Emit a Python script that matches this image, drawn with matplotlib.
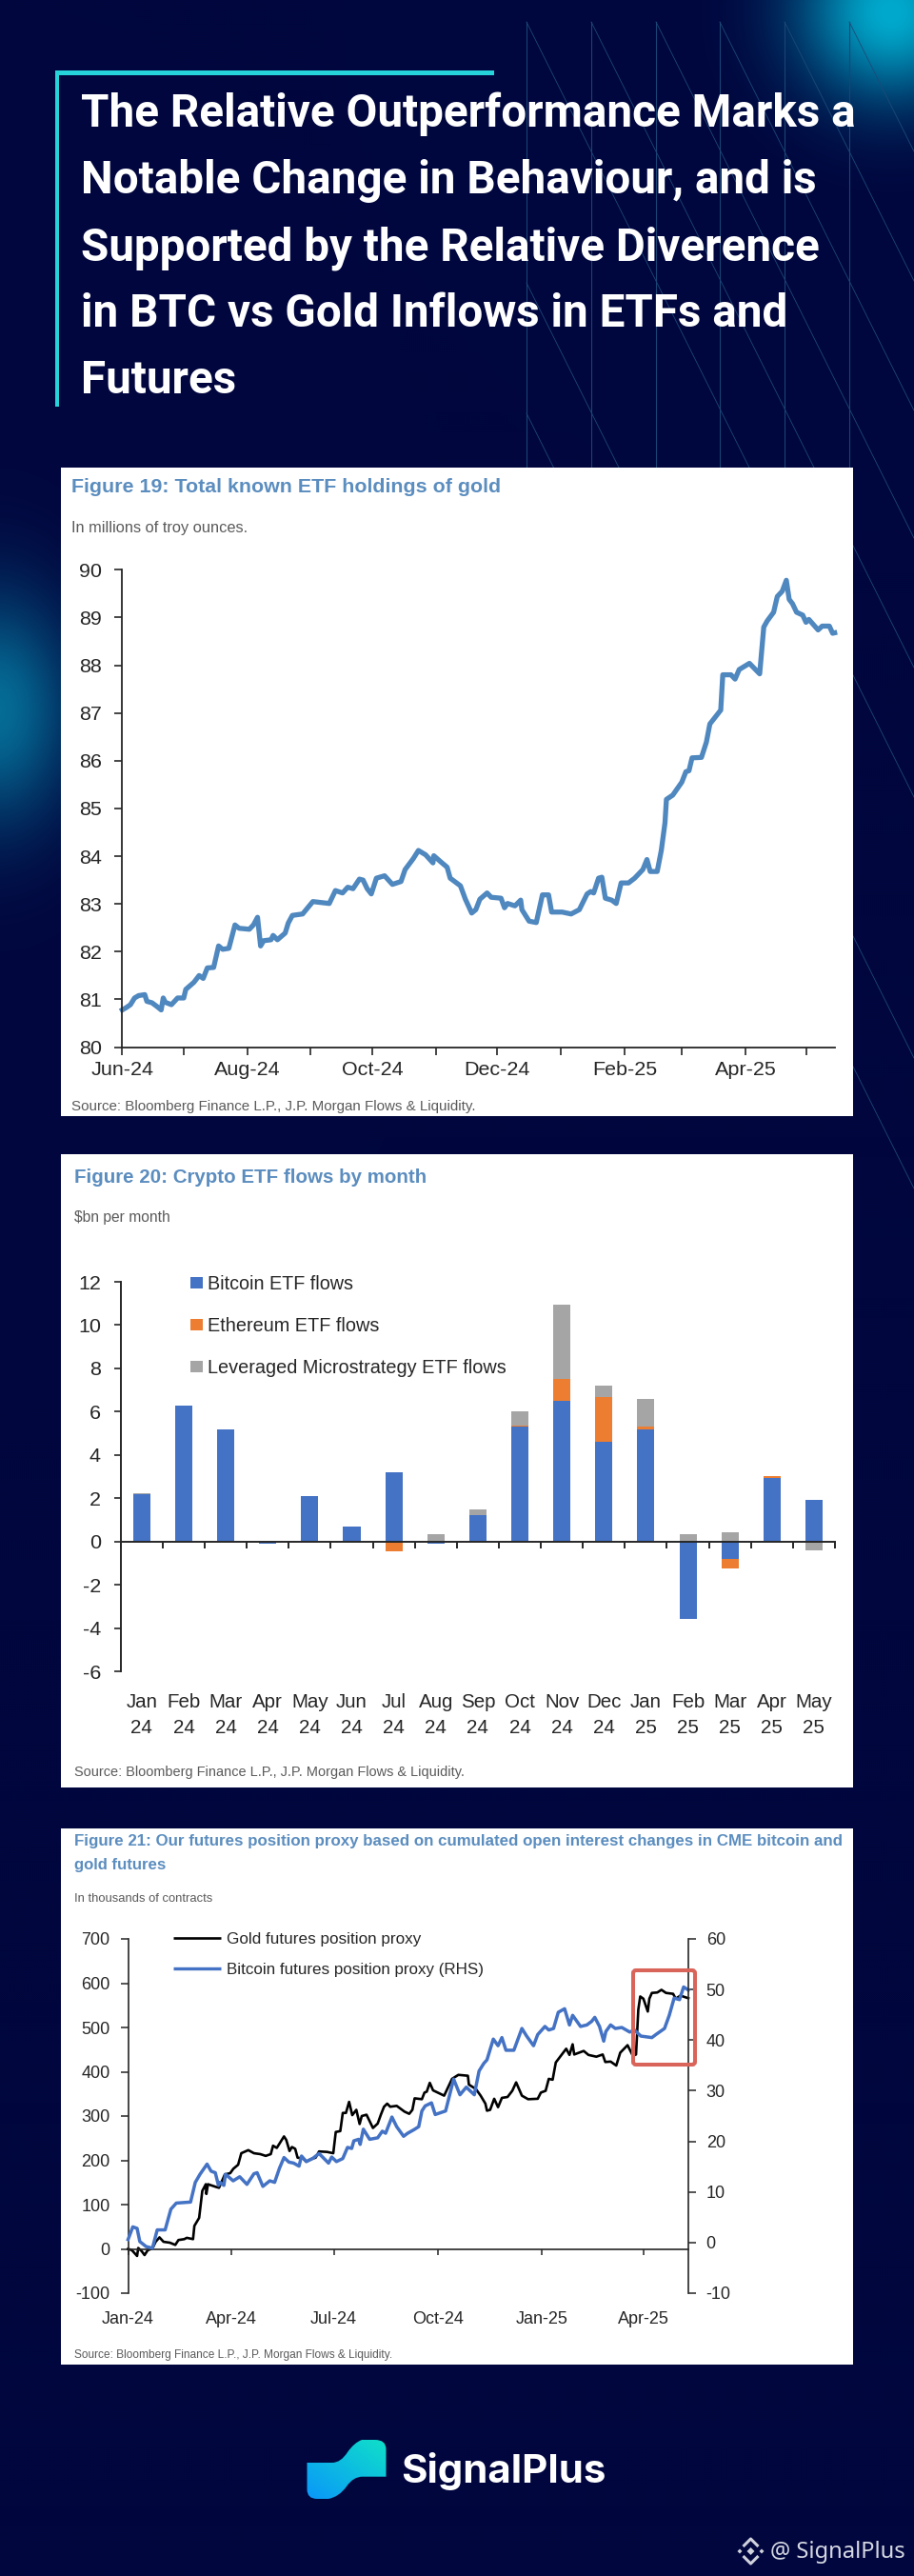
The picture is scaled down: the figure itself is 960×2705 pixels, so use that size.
import numpy as np
import matplotlib
matplotlib.use('Agg')
from matplotlib import pyplot as plt
from matplotlib.patches import Rectangle, FancyBboxPatch, PathPatch
from matplotlib.path import Path

W, H = 960, 2705

# Figure 19, days since 1 Jun 2024 and millions of troy ounces
gold_etf_days = [0, 2, 4, 6, 8, 11, 12, 14.5, 17, 19, 20, 21, 24, 27, 30, 31, 35, 37.5, 39.5, 41.5, 44.6, 47, 49, 52,
                 55, 57, 62, 64, 66, 67.5, 69, 72.6, 73.6, 75.7, 79.5, 81, 83, 88, 93, 101, 104, 107.5, 110, 112.6,
                 115.7, 117.5, 119.5, 121.5, 124, 128, 131.8, 136, 138, 142, 144.5, 148, 151.6, 152, 156, 158.5, 160,
                 165, 167.4, 170.5, 172.5, 174.5, 178, 180, 184.8, 186.5, 188, 191.6, 194.4, 195, 198.5, 202, 205,
                 208, 209.5, 214.6, 219, 223, 226.8, 228.6, 230, 232.4, 234, 235.7, 238.8, 241, 243.4, 247, 250, 254,
                 256, 257.6, 261, 263, 264.8, 265.5, 268.6, 273, 275, 276.5, 278, 282.6, 285, 286.7, 292, 293, 297,
                 299, 301, 306, 311, 313, 314.7, 317.8, 319.6, 322, 324, 325.4, 327, 329, 332, 333.6, 335, 339.5,
                 341.5, 345, 346.6, 347.6]
gold_etf_values = [80.78, 80.83, 80.89, 81.03, 81.08, 81.1, 80.96, 80.93, 80.85, 80.78, 81.03, 80.94, 80.89, 81.03,
                   81.03, 81.21, 81.36, 81.5, 81.44, 81.66, 81.67, 82.12, 82.05, 82.07, 82.56, 82.49, 82.47, 82.56,
                   82.72, 82.12, 82.23, 82.25, 82.34, 82.25, 82.39, 82.6, 82.76, 82.79, 83.05, 83.01, 83.28, 83.23,
                   83.35, 83.32, 83.52, 83.5, 83.32, 83.21, 83.54, 83.59, 83.41, 83.47, 83.72, 83.95, 84.12, 84.03,
                   83.86, 84.01, 83.86, 83.77, 83.54, 83.38, 83.1, 82.81, 82.88, 83.1, 83.23, 83.14, 83.12, 82.92,
                   83.01, 82.96, 83.08, 82.88, 82.64, 82.61, 83.19, 83.19, 82.83, 82.83, 82.79, 82.88, 83.21, 83.26,
                   83.23, 83.54, 83.56, 83.12, 83.08, 83.01, 83.44, 83.44, 83.54, 83.72, 83.93, 83.68, 83.68, 84.12,
                   84.7, 85.19, 85.28, 85.55, 85.77, 85.79, 86.06, 86.07, 86.39, 86.77, 87.06, 87.8, 87.8, 87.71,
                   87.91, 88.04, 87.82, 88.8, 88.93, 89.11, 89.44, 89.55, 89.78, 89.38, 89.29, 89.11, 89.05, 88.9,
                   88.96, 88.74, 88.82, 88.82, 88.67, 88.68]
etf_month_days = [0, 30, 61, 92, 122, 153, 183, 214, 245, 273, 304, 334]
etf_month_labels = ['Jun-24', '', 'Aug-24', '', 'Oct-24', '', 'Dec-24', '', 'Feb-25', '', 'Apr-25', '']

# Figure 20, $bn per month
flow_months = ['Jan', 'Feb', 'Mar', 'Apr', 'May', 'Jun', 'Jul', 'Aug', 'Sep', 'Oct', 'Nov', 'Dec', 'Jan', 'Feb',
               'Mar', 'Apr', 'May']
flow_years = ['24'] * 12 + ['25'] * 5
bitcoin_flows = [2.2, 6.3, 5.2, -0.08, 2.1, 0.7, 3.2, -0.1, 1.25, 5.3, 6.5, 4.6, 5.2, -3.55, -0.8, 2.95, 1.95]
ethereum_flows = [0, 0, 0, 0, 0, 0.02, -0.45, 0, 0, 0.05, 1.0, 2.1, 0.1, 0, -0.42, 0.07, 0]
microstrategy_flows = [0.03, 0, 0, 0, 0, 0, 0, 0.37, 0.25, 0.65, 3.45, 0.5, 1.3, 0.35, 0.45, 0, -0.4]

# Figure 21, days since 1 Jan 2024
gold_days = [0, 3.4, 8, 9, 12, 14.6, 17.4, 21.6, 24.4, 27.8, 31.4, 37, 41.8, 44.6, 49.7, 52, 57.5, 58.7, 62.9, 65.7,
             68.8, 69.3, 70.7, 77.7, 80.5, 85.6, 90.4, 93.2, 97.4, 100.2, 106.4, 111.4, 117, 121.8, 126.3, 128.3,
             131.6, 138, 140, 142.9, 145, 147.9, 150, 155, 157.7, 162, 166, 169, 176, 181.6, 183.8, 187.8, 190, 192.8,
             195.6, 198.4, 202, 204.9, 206.8, 211, 216.7, 220.9, 223.7, 226.5, 229.3, 232, 237.7, 240.4, 244.6, 248.8,
             251.6, 253.6, 260, 262.3, 264.3, 267, 269.9, 279.7, 282.5, 286.7, 292.3, 300.7, 301.6, 307.8, 312, 316.2,
             317.6, 320.4, 324, 327.4, 330.8, 335.8, 340, 343.4, 348.5, 354, 362.5, 365.3, 369.5, 372.3, 375.7, 378.5,
             385, 387.7, 390.6, 393.4, 394.8, 399, 403.2, 407.4, 414.4, 420, 422.3, 427, 432, 435.5, 442, 446.7, 449.5,
             451.5, 453.2, 456, 459.9, 461.3, 463.5, 468.3, 472, 476, 482.3, 484.6, 488.8, 495.8]
gold_position = [0, -3, -16, 2, -5, -14, -3, 1, 16, 26, 16, 14, 9, 20, 22, 25, 22, 52, 70, 131, 146, 124, 146, 140,
                 138, 168, 171, 181, 190, 216, 223, 216, 214, 210, 214, 233, 228, 254, 246, 221, 230, 226, 206, 204,
                 197, 203, 206, 220, 219, 216, 264, 266, 307, 307, 332, 302, 314, 282, 300, 303, 273, 283, 303, 321,
                 328, 321, 323, 318, 310, 305, 314, 340, 338, 353, 355, 375, 358, 346, 361, 384, 393, 391, 371, 361,
                 346, 328, 312, 314, 339, 320, 341, 343, 357, 376, 346, 338, 339, 353, 357, 384, 382, 421, 443, 452,
                 438, 462, 439, 443, 447, 438, 434, 439, 422, 423, 414, 443, 460, 436, 439, 540, 570, 565, 536, 565,
                 578, 579, 585, 578, 576, 565, 572, 566]
bitcoin_days = [0, 4.2, 8, 10.4, 16, 21.6, 25.8, 32.8, 37.9, 42.7, 55.3, 59.5, 63.7, 69.9, 73.5, 77.2, 80, 81.4, 84.8,
                86.2, 93, 98.8, 105.2, 111.4, 114.2, 119.3, 125.4, 129.7, 134, 138, 142.3, 146.5, 151.3, 153.5, 157.7,
                163.3, 169, 177.4, 180.2, 184.4, 190, 194.2, 197.9, 199.8, 204, 205.4, 208.2, 213.8, 220.9, 225, 227.9,
                233.5, 237.7, 243.8, 247.4, 253, 257.2, 260, 262.9, 268.5, 271.8, 281, 288.1, 293.7, 299.3, 306.4,
                310.6, 314.8, 317.6, 323.2, 327.4, 330.8, 334.4, 341.4, 348.5, 352.7, 358.8, 362.5, 368.9, 372.3,
                376.5, 380.7, 386.3, 390.6, 393.4, 400.4, 406, 410.2, 413, 417.2, 420.9, 422.8, 427, 431.2, 436.9,
                443.9, 448.1, 453.7, 463.5, 467.7, 474.7, 478.9, 483.2, 488, 491.6, 495.8]
bitcoin_position = [0.6, 3.1, 2.8, 0.2, -0.8, -1.1, 2.5, 2.5, 6.6, 7.8, 8, 11.9, 13.5, 15.5, 14.1, 13.8, 11.3, 11.9,
                    11.3, 13.5, 12.2, 13, 11.5, 13.6, 13.8, 11.1, 12.2, 11.9, 14.7, 16.8, 15.9, 15.7, 15.1, 17.1, 16,
                    16.6, 17.6, 15.7, 16.9, 16, 16.6, 18.8, 18.6, 20.1, 20.4, 19.4, 22.4, 20.4, 20.7, 22, 21.6, 24.8,
                    22.9, 21, 21.6, 22.3, 22.9, 26, 27, 27.6, 25.3, 26, 32.3, 29.2, 30.7, 29.2, 33.9, 35.4, 36.1, 40.2,
                    38.9, 40.5, 38, 38, 42.3, 40.8, 38.9, 41.1, 42.7, 42, 42.3, 45.5, 46.2, 43, 44.9, 42.7, 43, 43.7,
                    44.5, 42.7, 39.8, 41.7, 43, 42.3, 42.5, 41.6, 42, 40.8, 40.5, 41.2, 42.3, 44.9, 48.3, 48, 50.5, 49.9]
position_tick_days = [0, 91, 182, 274, 366, 456]
position_tick_labels = ['Jan-24', 'Apr-24', 'Jul-24', 'Oct-24', 'Jan-25', 'Apr-25']

NAVY = '#01063e'
ARIAL = 'Liberation Sans'
TITLE_BLUE = '#5b8dbf'
GREY = '#5a5a5a'
DARK = '#262626'

fig = plt.figure(figsize=(W / 100, H / 100), dpi=100, facecolor=NAVY)
plt.rcParams['font.family'] = ARIAL


def pt(px):
    return px * 0.72


def px_axes(left, top, right, bottom, **kw):
    return fig.add_axes([left / W, 1 - bottom / H, (right - left) / W, (bottom - top) / H], **kw)


def full_axes(zorder):
    a = px_axes(0, 0, W, H, zorder=zorder)
    a.set_xlim(0, W)
    a.set_ylim(H, 0)
    a.axis('off')
    a.patch.set_alpha(0)
    return a


bg = full_axes(0)
top = full_axes(10)

# background glows
yy, xx = np.mgrid[0:H:2, 0:W:2]
base = np.array([1, 6, 62]) / 255
glow_a = np.exp(-(((xx - 935) / 95.0) ** 2 + ((yy - 12) / 90.0) ** 2))
glow_b = np.exp(-(((xx + 5) / 80.0) ** 2 + ((yy - 745) / 120.0) ** 2))
img = np.ones(xx.shape + (3,)) * base
for g, colour, amount in [(glow_a, [0, 170, 205], 1.0), (glow_b, [5, 120, 160], 0.9)]:
    c = np.array(colour) / 255
    img = img + (c - img) * (g * amount)[..., None]
bg.imshow(img, extent=(0, W, H, 0), aspect='auto', zorder=0, interpolation='bilinear')
bg.set_xlim(0, W)
bg.set_ylim(H, 0)

# decorative lines
for x in [553, 621, 689, 756, 824, 892]:
    bg.plot([x, x], [23, 492], color='#1a4474', lw=0.8, zorder=1)
    bg.plot([x, 960], [23, 23 + (960 - x) * 2.0], color='#1c4a78', lw=0.6, zorder=1)
for start in [297, 434]:
    bg.plot([553, 960], [start, start + 407 * 2.0], color='#1c4a78', lw=0.6, zorder=1)

# header accent
bg.add_patch(Rectangle((58, 74), 461, 5, color='#27d3da', lw=0, zorder=2))
bg.add_patch(Rectangle((58, 74), 4, 353, color='#27d3da', lw=0, zorder=2))

# white panels
for y0, y1 in [(491, 1172), (1212, 1877), (1920, 2483)]:
    bg.add_patch(Rectangle((64, y0), 832, y1 - y0, color='white', lw=0, zorder=3))

renderer = fig.canvas.get_renderer()


def fit(x, y, s, width=None, size=14, **kw):
    kw.setdefault('va', 'baseline')
    t = top.text(x, y, s, fontsize=pt(size), **kw)
    if width:
        t.set_fontsize(t.get_fontsize() * width / t.get_window_extent(renderer).width)
    return t


# header
header = ['The Relative Outperformance Marks a', 'Notable Change in Behaviour, and is',
          'Supported by the Relative Diverence', 'in BTC vs Gold Inflows in ETFs and', 'Futures']
first = fit(85, 133, header[0], width=812, size=42, color='white', family='Roboto', fontweight='bold')
for i, line in enumerate(header[1:]):
    top.text(85, 203 + 70 * i, line, fontsize=first.get_fontsize(), color='white', family='Roboto',
             fontweight='bold', va='baseline')

# Figure 19
fit(75, 517, 'Figure 19: Total known ETF holdings of gold', width=449, color=TITLE_BLUE, family=ARIAL,
    fontweight='bold')
fit(75, 559, 'In millions of troy ounces.', width=186, color=GREY, family=ARIAL)
fit(75, 1166, 'Source: Bloomberg Finance L.P., J.P. Morgan Flows & Liquidity.', width=426, color=GREY, family=ARIAL)

ax1 = px_axes(128.4, 598.3, 876.7, 1099.6, zorder=5)
ax1.patch.set_alpha(0)
ax1.plot(gold_etf_days, gold_etf_values, color='#4f87bf', lw=3.8, clip_on=False, solid_joinstyle='round')
ax1.set_xlim(0, 347.6)
ax1.set_ylim(80, 90)
ax1.set_xticks(etf_month_days)
ax1.set_xticklabels(etf_month_labels)
ax1.set_yticks(range(80, 91))
for side in ['top', 'right']:
    ax1.spines[side].set_visible(False)
for side in ['left', 'bottom']:
    ax1.spines[side].set_linewidth(1.3)
    ax1.spines[side].set_color(DARK)
ax1.tick_params(axis='x', length=5.5, width=1.2, color=DARK, labelsize=pt(21.5), labelcolor=DARK, pad=5)
ax1.tick_params(axis='y', length=5.5, width=1.2, color=DARK, labelsize=pt(21.5), labelcolor=DARK, pad=10)

# Figure 20
fit(78.5, 1242, 'Figure 20: Crypto ETF flows by month', width=370, color=TITLE_BLUE, family=ARIAL, fontweight='bold')
fit(78.5, 1283, '$bn per month', width=102, color=GREY, family=ARIAL)
fit(78.5, 1865, 'Source: Bloomberg Finance L.P., J.P. Morgan Flows & Liquidity.', width=408, color=GREY, family=ARIAL)

ax2 = px_axes(126.8, 1346, 877, 1755.4, zorder=5)
ax2.patch.set_alpha(0)
x2 = np.arange(len(flow_months))
pos_base = np.zeros(len(x2))
neg_base = np.zeros(len(x2))
flow_series = [(bitcoin_flows, '#4472c4', 'Bitcoin ETF flows', 153), (ethereum_flows, '#ed7d31', 'Ethereum ETF flows', 180),
               (microstrategy_flows, '#a5a5a5', 'Leveraged Microstrategy ETF flows', 312)]
for values, colour, name, _ in flow_series:
    values = np.array(values, dtype=float)
    bottoms = np.where(values >= 0, pos_base, neg_base)
    ax2.bar(x2, values, 0.41, bottom=bottoms, color=colour, lw=0, zorder=1)
    pos_base = pos_base + np.clip(values, 0, None)
    neg_base = neg_base + np.clip(values, None, 0)
ax2.set_xlim(-0.5, 16.5)
ax2.set_ylim(-6, 12)
ax2.set_yticks(range(-6, 13, 2))
ax2.set_yticklabels([str(v) for v in range(-6, 13, 2)])
ax2.set_xticks(np.arange(-0.5, 17))
ax2.set_xticklabels([])
for side in ['top', 'right']:
    ax2.spines[side].set_visible(False)
ax2.spines['bottom'].set_position(('data', 0))
for side in ['left', 'bottom']:
    ax2.spines[side].set_linewidth(1.4)
    ax2.spines[side].set_color(DARK)
ax2.tick_params(axis='y', length=5, width=1.2, color=DARK, labelsize=pt(21.5), labelcolor=DARK, pad=10)
ax2.tick_params(axis='x', length=5, width=1.4, color=DARK)
for i in x2:
    px = 126.8 + (i + 0.5) * (877 - 126.8) / 17
    top.text(px, 1793, flow_months[i], fontsize=pt(20.5), color=DARK, ha='center', va='baseline')
    top.text(px, 1820, flow_years[i], fontsize=pt(20.5), color=DARK, ha='center', va='baseline')
for i, (values, colour, name, name_width) in enumerate(flow_series):
    ly = 1346.6 + 44 * i
    top.add_patch(Rectangle((200, ly - 6), 13, 12, color=colour, lw=0))
    fit(218, ly + 7.5, name, width=name_width, size=21, color=DARK, family=ARIAL)

# Figure 21
fit(78, 1938, 'Figure 21: Our futures position proxy based on cumulated open interest changes in CME bitcoin and',
    width=807, color=TITLE_BLUE, family=ARIAL, fontweight='bold')
fit(78, 1963, 'gold futures', width=97, color=TITLE_BLUE, family=ARIAL, fontweight='bold')
fit(78, 1997, 'In thousands of contracts', width=146, color=GREY, family=ARIAL)
fit(78, 2476, 'Source: Bloomberg Finance L.P., J.P. Morgan Flows & Liquidity.', width=337, color=GREY, family=ARIAL)

ax3 = px_axes(134.5, 2036, 723, 2408, zorder=5)
ax3.patch.set_alpha(0)
ax3.plot(gold_days, gold_position, color='black', lw=1.9, clip_on=False, zorder=2)
ax3.set_xlim(0, 495.8)
ax3.set_ylim(-100, 700)
ax3.set_yticks(range(-100, 701, 100))
ax3.set_yticklabels([str(v) for v in range(-100, 701, 100)])
ax3.set_xticks(position_tick_days)
ax3.set_xticklabels(position_tick_labels)
for side in ['top', 'right']:
    ax3.spines[side].set_visible(False)
ax3.spines['bottom'].set_position(('data', 0))
for side in ['left', 'bottom']:
    ax3.spines[side].set_linewidth(1.2)
    ax3.spines[side].set_color(DARK)
ax3.tick_params(axis='y', length=5.5, width=1.1, color=DARK, labelsize=pt(18), labelcolor=DARK, pad=8)
ax3.tick_params(axis='x', length=4.5, width=1.1, color=DARK, labelsize=pt(18), labelcolor=DARK, pad=43)

ax3r = ax3.twinx()
ax3r.set_zorder(6)
ax3r.patch.set_alpha(0)
ax3r.plot(bitcoin_days, bitcoin_position, color='#4472c4', lw=2.5, clip_on=False)
ax3r.set_ylim(-10, 60)
ax3r.set_yticks(range(-10, 61, 10))
ax3r.set_yticklabels([str(v) for v in range(-10, 61, 10)])
for side in ['top', 'left', 'bottom']:
    ax3r.spines[side].set_visible(False)
ax3r.spines['right'].set_linewidth(1.2)
ax3r.spines['right'].set_color(DARK)
ax3r.tick_params(axis='y', length=5.5, width=1.1, color=DARK, labelsize=pt(18), labelcolor=DARK, pad=8)

for ly, colour, lw, name, name_width in [(2035, 'black', 1.9, 'Gold futures position proxy', 204),
                                         (2067, '#4472c4', 2.4, 'Bitcoin futures position proxy (RHS)', 271)]:
    top.plot([181.6, 232], [ly, ly], color=colour, lw=lw, solid_capstyle='butt')
    fit(238, ly + 6.5, name, width=name_width, size=18, color=DARK, family=ARIAL)

top.add_patch(FancyBboxPatch((665, 2069), 65, 99, boxstyle='round,pad=0,rounding_size=3', fc='none', ec='#d9645a',
                             lw=2.9))

# footer logo
logo = Path([(322.5, 2586), (349, 2586), (358, 2586), (365, 2575), (372, 2565), (380, 2562), (394, 2562),
             (405.5, 2562), (405.5, 2572), (405.5, 2600.7), (380.5, 2600.7), (371, 2600.7), (364, 2611), (356, 2622),
             (345, 2624), (333, 2624), (322.5, 2624), (322.5, 2614), (322.5, 2586)],
            [Path.MOVETO, Path.LINETO, Path.CURVE3, Path.CURVE3, Path.CURVE3, Path.CURVE3, Path.LINETO, Path.CURVE3,
             Path.CURVE3, Path.LINETO, Path.LINETO, Path.CURVE3, Path.CURVE3, Path.CURVE3, Path.CURVE3, Path.LINETO,
             Path.CURVE3, Path.CURVE3, Path.LINETO])
ramp = np.linspace(0, 1, 128)
gx, gy = np.meshgrid(ramp, ramp)
mix = np.clip((gx + (1 - gy)) / 2, 0, 1)[..., None]
logo_rgb = np.array([10, 150, 250]) / 255 * (1 - mix) + np.array([15, 225, 200]) / 255 * mix
im = top.imshow(logo_rgb, extent=(322, 406, 2625, 2561), aspect='auto', zorder=3)
im.set_clip_path(PathPatch(logo, transform=top.transData))
top.set_xlim(0, W)
top.set_ylim(H, 0)
fit(421, 2607, 'SignalPlus', width=216, color='white', family='Inter', fontweight='bold')

# watermark
ICON = '#cfd2dc'
cx, cy = 788.5, 2679
top.plot([cx - 8, cx, cx + 8], [cy - 5, cy - 13, cy - 5], color=ICON, lw=2.2, solid_capstyle='butt')
top.plot([cx - 8, cx, cx + 8], [cy + 5, cy + 13, cy + 5], color=ICON, lw=2.2, solid_capstyle='butt')
for dx, r in [(-11.5, 2.5), (11.5, 2.5), (0, 4)]:
    top.add_patch(plt.Polygon([(cx + dx, cy - r), (cx + dx + r, cy), (cx + dx, cy + r), (cx + dx - r, cy)],
                              color=ICON, lw=0))
fit(809, 2686, '@ SignalPlus', width=143, color='#d5d8e2', family='Noto Sans')

fig.savefig('out.png', dpi=100, facecolor=NAVY)
